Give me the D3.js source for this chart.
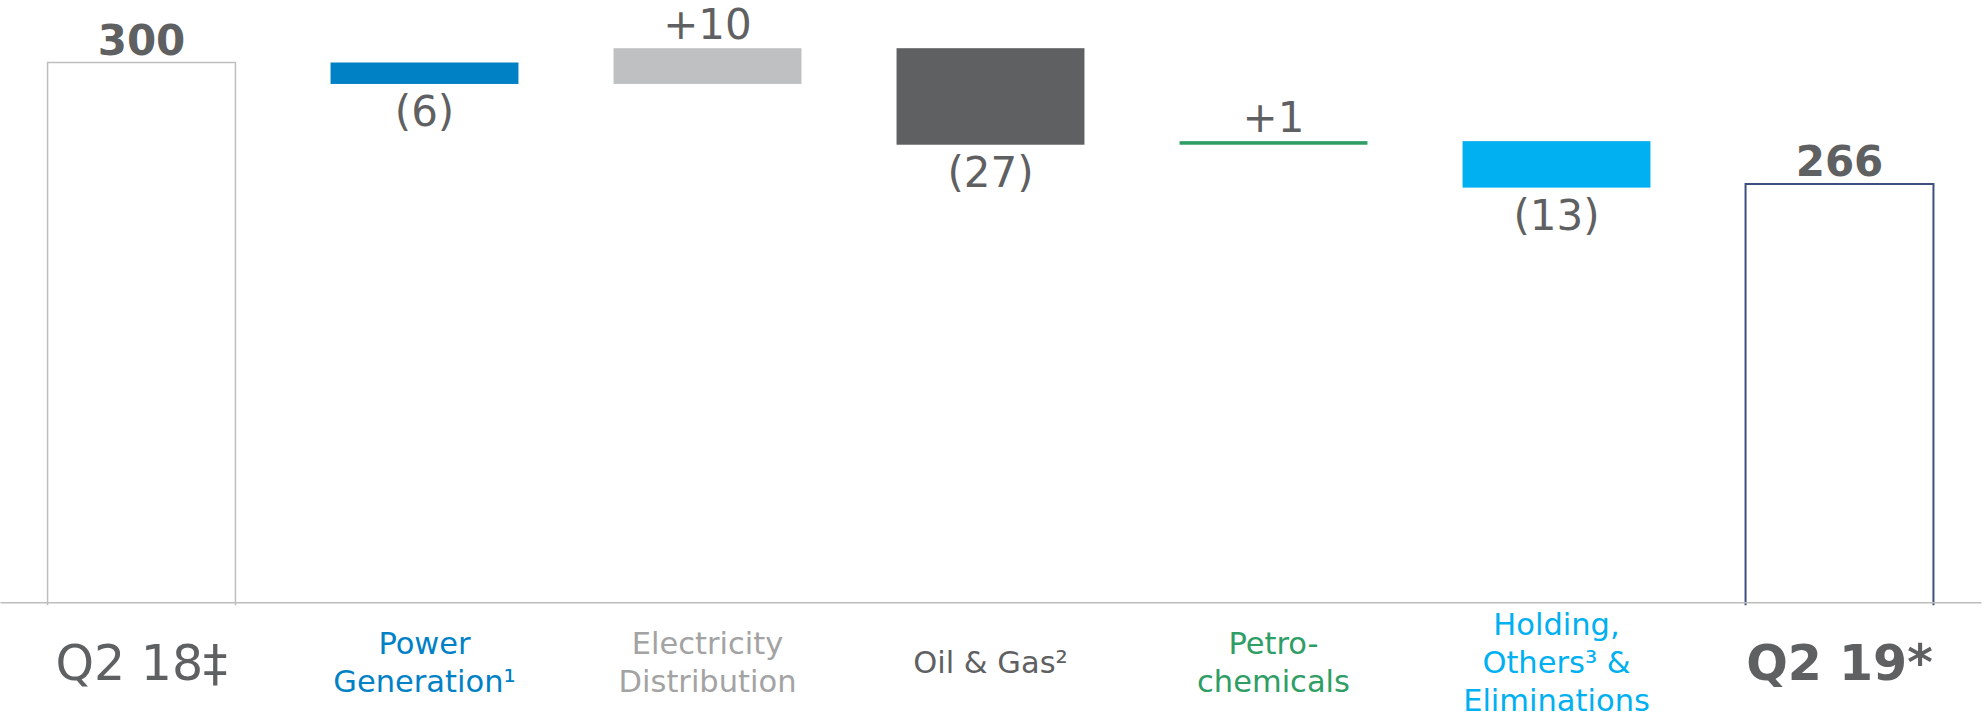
<!DOCTYPE html>
<html>
<head>
<meta charset="utf-8">
<script src="https://cdn.jsdelivr.net/npm/d3@7"></script>
<style>
  body { margin: 0; background: #fff; }
  text { font-family: "DejaVu Sans", Verdana, sans-serif; }
</style>
</head>
<body>
<svg id="chart"></svg>
<script>
// data
var categories = ["Q2 18‡", "Power\nGeneration¹", "Electricity\nDistribution", "Oil & Gas²", "Petro-\nchemicals", "Holding,\nOthers³ &\nEliminations", "Q2 19*"];
var startValue = 300;
var endValue = 266;
var deltas = [-6, 10, -27, 1, -13];
var valueLabels = ["300", "(6)", "+10", "(27)", "+1", "(13)", "266"];
var barColors = ["none", "#0081c6", "#bfc0c2", "#5f6062", "#2e9e65", "#00b0f0", "none"];
var labelColors = ["#5f6062", "#0081c6", "#a3a3a3", "#5f6062", "#2e9e65", "#00b0f0", "#5f6062"];

function init(){
    var width = 1985, height = 714;
    var svg = d3.select("#chart").attr("width", width).attr("height", height);

    // waterfall steps
    var steps = [];
    var run = startValue;
    steps.push({name: categories[0], lo: 0, hi: startValue, total: true});
    deltas.forEach(function(d, i) {
        var next = run + d;
        steps.push({name: categories[i + 1], lo: Math.min(run, next), hi: Math.max(run, next), delta: d});
        run = next;
    });
    steps.push({name: categories[6], lo: 0, hi: endValue, total: true});

    var baseY = 602.3;

    var x = d3.scaleBand()
        .domain(categories)
        .range([0, 1981])
        .paddingInner(0.336)
        .paddingOuter(0.168);

    // axis is cut off, it does not start at zero
    var y = d3.scaleLinear()
        .domain([149, 300])
        .range([baseY, 62.5]);

    // delta bars
    svg.selectAll(".delta")
        .data(steps.filter(function(d) { return !d.total; }))
        .enter()
        .append("rect")
        .attr("class", "delta")
        .attr("x", function(d) { return x(d.name); })
        .attr("y", function(d) { return y(d.hi); })
        .attr("width", x.bandwidth())
        .attr("height", function(d) { return y(d.lo) - y(d.hi); })
        .attr("fill", function(d) { return barColors[categories.indexOf(d.name)]; });

    // total bars, open at the bottom
    svg.selectAll(".total")
        .data(steps.filter(function(d) { return d.total; }))
        .enter()
        .append("path")
        .attr("class", "total")
        .attr("d", function(d) {
            var x0 = x(d.name), x1 = x0 + x.bandwidth();
            return "M" + x0 + "," + (baseY + 3) + "V" + y(d.hi) + "H" + x1 + "V" + (baseY + 3);
        })
        .attr("fill", "none")
        .attr("stroke", function(d, i) { return i == 0 ? "#bfbfbf" : "#3f4f80"; })
        .attr("stroke-width", function(d, i) { return i == 0 ? 1.5 : 2; });

    // baseline
    var axis = svg.append("g")
        .attr("transform", "translate(0," + baseY + ")")
        .call(d3.axisBottom(x).tickSize(0).tickSizeOuter(0).tickFormat(""));
    axis.select(".domain").attr("stroke", "#bdbdbd").attr("stroke-width", 1.5);

    // value labels
    svg.selectAll(".val")
        .data(steps)
        .enter()
        .append("text")
        .attr("class", "val")
        .attr("text-anchor", "middle")
        .attr("x", function(d) { return x(d.name) + x.bandwidth() / 2; })
        .attr("y", function(d) {
            if (d.total) return y(d.hi) - 8;
            if (d.delta > 0) return y(d.hi) - 9;
            return y(d.lo) + 42;
        })
        .attr("font-size", 42)
        .attr("font-weight", function(d) { return d.total ? "bold" : "normal"; })
        .attr("fill", "#5f6062")
        .text(function(d, i) { return valueLabels[i]; });

    // category labels
    var lineH = 37.7, capMid = 662;
    var cat = svg.selectAll(".cat")
        .data(categories)
        .enter()
        .append("text")
        .attr("class", "cat")
        .attr("text-anchor", "middle")
        .attr("fill", function(d, i) { return labelColors[i]; })
        .attr("font-size", function(d, i) { return (i == 0 || i == 6) ? 49 : 30.5; })
        .attr("font-weight", function(d, i) { return i == 6 ? "bold" : "normal"; });

    cat.each(function(d, i) {
        var lines = d.split("\n");
        var fs = (i == 0 || i == 6) ? 49 : 30.5;
        var first = capMid + fs * 0.729 / 2 - (lines.length - 1) / 2 * lineH;
        var cx = x(d) + x.bandwidth() / 2;
        d3.select(this).selectAll("tspan")
            .data(lines)
            .enter()
            .append("tspan")
            .attr("x", cx)
            .attr("y", function(l, j) { return first + j * lineH; })
            .text(function(l) { return l; });
    });
}
window.onload = init
</script>
</body>
</html>
